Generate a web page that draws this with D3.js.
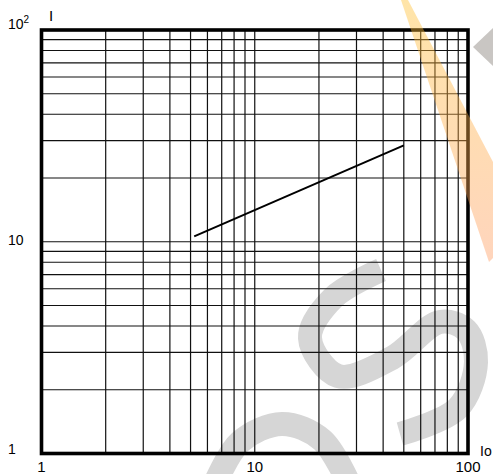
<!DOCTYPE html>
<html>
<head>
<meta charset="utf-8">
<script src="https://cdn.jsdelivr.net/npm/d3@7/dist/d3.min.js"></script>
<style>
  html, body { margin: 0; padding: 0; background: #fff; }
  svg { display: block; font-family: "Liberation Sans", Arial, Helvetica, sans-serif; }
</style>
</head>
<body>
<svg id="chart" width="493" height="474"></svg>
<script>
// Axis extents (log-log, both axes span two decades)
const xDomain = [1, 100];
const yDomain = [1, 100];

// Labelled decades on each axis
const xTickValues = [1, 10, 100];
const xTickLabels = ["1", "10", "100"];
const yTickValues = [1, 10, 100];
const yTickLabels = ["1", "10", "10"];   // top label gets a superscript "2"

// Characteristic curve: I versus Io
const curveIo = [5.2, 50];
const curveI = [10.6, 28.5];

(function () {
  const svg = d3.select("#chart");
  const plotLeft = 41.5, plotRight = 468, plotTop = 30, plotBottom = 453.5;

  const x = d3.scaleLog().domain(xDomain).range([plotLeft, plotRight]);
  const y = d3.scaleLog().domain(yDomain).range([plotBottom, plotTop]);

  // Grey background emblem
  const grey = svg.append("g").attr("fill", "none").attr("stroke", "#d6d6d6")
    .attr("stroke-width", 24).attr("stroke-linecap", "butt");
  const smooth = d3.line().curve(d3.curveCatmullRom.alpha(0.5));
  grey.append("path").attr("d", smooth([
    [381, 270], [333, 298], [310, 338], [338, 376], [392, 358],
    [440, 322], [466, 330], [476, 362], [458, 408], [400, 434]
  ]));
  grey.append("path").attr("d", smooth([
    [214, 486], [240, 442], [282, 424], [322, 440], [350, 486]
  ]));
  svg.append("polygon").attr("points", "473,47 493,28 493,66").attr("fill", "#c9c6c3");

  // Log grid: every integer multiple within each decade
  const gridX = [], gridY = [];
  for (let d = 1; d < 100; d *= 10) {
    for (let k = 1; k <= 9; k++) {
      const v = d * k;
      if (v > 1 && v < 100) { gridX.push(v); gridY.push(v); }
    }
  }
  const grid = svg.append("g").attr("stroke", "#111").attr("stroke-width", 1.2);
  grid.selectAll("line.gx").data(gridX).join("line").attr("class", "gx")
    .attr("x1", d => x(d)).attr("x2", d => x(d))
    .attr("y1", plotTop).attr("y2", plotBottom);
  grid.selectAll("line.gy").data(gridY).join("line").attr("class", "gy")
    .attr("y1", d => y(d)).attr("y2", d => y(d))
    .attr("x1", plotLeft).attr("x2", plotRight);

  // Plot frame
  svg.append("rect")
    .attr("x", plotLeft).attr("y", plotTop)
    .attr("width", plotRight - plotLeft).attr("height", plotBottom - plotTop)
    .attr("fill", "none").attr("stroke", "#000").attr("stroke-width", 3.6);

  // Curve
  svg.append("path")
    .datum(curveIo.map((v, i) => [v, curveI[i]]))
    .attr("d", d3.line().x(d => x(d[0])).y(d => y(d[1])))
    .attr("fill", "none").attr("stroke", "#000").attr("stroke-width", 2);

  // X tick labels
  svg.append("g").selectAll("text").data(xTickValues).join("text")
    .attr("x", d => x(d)).attr("y", 472)
    .attr("text-anchor", "middle").attr("font-size", 15).attr("fill", "#000")
    .text((d, i) => xTickLabels[i]);

  // Y tick labels
  const yl = svg.append("g").selectAll("text").data(yTickValues).join("text")
    .attr("x", 8).attr("y", d => y(d) + (d === 100 ? -1 : d === 10 ? 3.5 : 0.5))
    .attr("font-size", 14).attr("fill", "#000")
    .text((d, i) => yTickLabels[i]);
  yl.filter(d => d === 100).append("tspan")
    .attr("dy", -6).attr("font-size", 10).text("2");

  // Axis titles
  svg.append("text").attr("x", 49).attr("y", 21).attr("font-size", 15).text("I");
  svg.append("text").attr("x", 480).attr("y", 456).attr("font-size", 14).text("Io");

  // Translucent orange ribbon across the top-right corner
  const defs = svg.append("defs");
  const grad = defs.append("linearGradient").attr("id", "ribbon")
    .attr("gradientUnits", "userSpaceOnUse")
    .attr("x1", 0).attr("y1", 0).attr("x2", 0).attr("y2", 262);
  grad.append("stop").attr("offset", "0%").attr("stop-color", "#ffc030");
  grad.append("stop").attr("offset", "100%").attr("stop-color", "#ff9a60");
  svg.append("polygon")
    .attr("points", "401,0 408,0 493,162 493,258 489,262")
    .attr("fill", "url(#ribbon)")
    .attr("fill-opacity", 0.42);
})();
</script>
</body>
</html>
